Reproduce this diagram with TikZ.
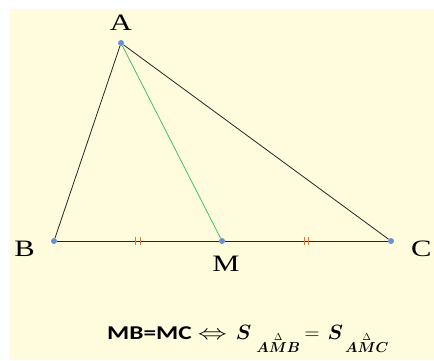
\documentclass[tikz,border=0pt]{standalone}
\usepackage{amssymb,amsmath,tikz}
\usepackage{fontspec}
\setmainfont{Liberation Serif}
\newfontfamily\calibrifont{Carlito}
\definecolor{bgyellow}{HTML}{FFFCDD}
\definecolor{dotblue}{HTML}{6C8FD2}
\definecolor{medgreen}{HTML}{3CC463}
\definecolor{tickorange}{HTML}{E07A32}
\newcommand{\wide}[1]{\scalebox{1.3}[1]{#1}}
\newcommand{\tri}[1]{\overset{\scriptscriptstyle\Delta}{\boldsymbol{#1}}}

\begin{document}
\begin{tikzpicture}[x=1pt,y=-1pt]
\tikzstyle{vertex}=[circle,fill=dotblue,minimum size=6pt,inner sep=0pt]
\tikzstyle{side}=[draw,line width=0.8pt,black!85]
\tikzstyle{median}=[draw,line width=0.8pt,medgreen]
\tikzstyle{every label}=[font=\fontsize{23.5}{26}\selectfont]
\tikzstyle{tick}=[minimum width=6pt,minimum height=8pt,inner sep=0pt,
  path picture={\draw[tickorange,line width=0.9pt]
    ([xshift=-2.2pt]path picture bounding box.north) -- ([xshift=-2.2pt]path picture bounding box.south)
    ([xshift=2.2pt]path picture bounding box.north) -- ([xshift=2.2pt]path picture bounding box.south);}]

\useasboundingbox (0,0) rectangle (434,360);
\fill[bgyellow] (10,9) rectangle (434,360);

\node[vertex,label={[label distance=5.5pt]above:\wide{A}}] (A) at (121,43) {};
\node[vertex,label={[label distance=12.5pt,yshift=-8pt]left:\wide{B}}] (B) at (54,241) {};
\node[vertex,label={[label distance=8.5pt,xshift=4pt]below:\wide{M}}] (M) at (222,241) {};
\node[vertex,label={[label distance=13.5pt,yshift=-7.5pt]right:\wide{C}}] (C) at (391,241) {};

\path (A) edge[side] (B);
\path (A) edge[side] (C);
\path (A) edge[median] (M);
\path (B) edge[side] node[tick] {} (M);
\path (M) edge[side] node[tick] {} (C);

% equal areas
\node[font=\fontsize{19.5}{22}\selectfont,anchor=base west] (eq) at (103.7,339)
  {\wide{\calibrifont\bfseries MB=MC}\hspace{6pt}\scalebox{1.4}[1]{$\Leftrightarrow$}\hspace{9pt}%
   $\boldsymbol{S}_{\hspace{5pt}\tri{AMB}}$\hspace{4pt}$=$\hspace{8pt}$\boldsymbol{S}_{\hspace{2pt}\tri{AMC}}$};

\end{tikzpicture}
\end{document}
